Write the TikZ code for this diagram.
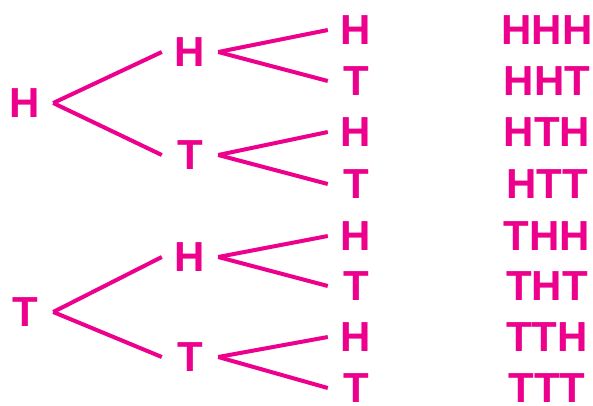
\documentclass[tikz,border=0pt]{standalone}
\usepackage{fontspec}
\setmainfont{Liberation Sans}
\definecolor{coin}{HTML}{EC008C}
\tikzset{flip/.style={text=coin, font=\fontsize{42}{42}\selectfont\bfseries, minimum width=56pt, inner sep=0pt},
  branch/.style={draw=coin, line width=4pt}}

\begin{document}
\begin{tikzpicture}[x=1pt, y=-1pt]
  \useasboundingbox (0,0) rectangle (593,405);
  % first toss
  \node[flip] (r1) at (25,103) {H};
  \node[flip] (r2) at (25,312) {T};
  % second toss
  \foreach \n/\y/\t in {1/52/H, 2/155/T, 3/257/H, 4/357/T}{\node[flip] (a\n) at (190,\y) {\t};}
  % third toss
  \foreach \n/\y/\t in {1/30/H, 2/81/T, 3/132/H, 4/184/T, 5/236/H, 6/286/T, 7/337/H, 8/388/T}{\node[flip] (b\n) at (356,\y) {\t};}
  % all outcomes
  \foreach \n/\y/\t in {1/30/HHH, 2/81/HHT, 3/132/HTH, 4/184/HTT, 5/236/THH, 6/286/THT, 7/337/TTH, 8/388/TTT}{\node[flip] (o\n) at (547,\y) {\t};}
  \foreach \a/\b in {r1/a1, r1/a2, r2/a3, r2/a4, a1/b1, a1/b2, a2/b3, a2/b4, a3/b5, a3/b6, a4/b7, a4/b8}{\draw[branch] (\a.east) -- (\b.west);}
\end{tikzpicture}
\end{document}
